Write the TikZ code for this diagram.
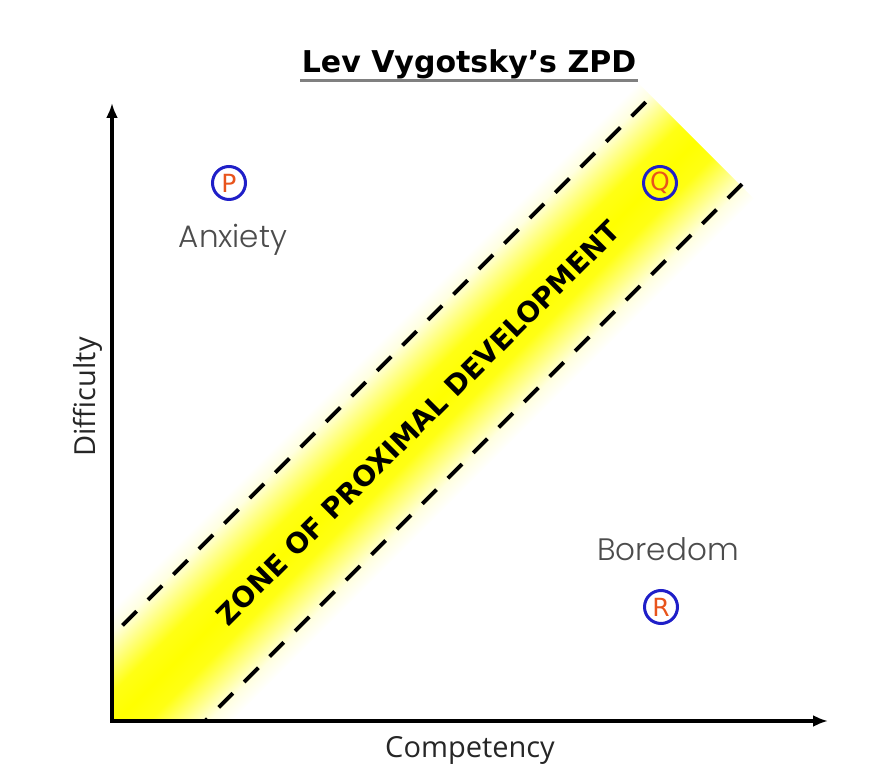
\documentclass[tikz,border=0pt]{standalone}
\usepackage{fontspec}
\setmainfont{DejaVu Sans}
\newfontfamily\axisfont{Open Sans}
\newfontfamily\moodfont{Poppins Light}
\usetikzlibrary{arrows.meta}
\definecolor{zblue}{HTML}{1F1FC8}
\definecolor{zorange}{HTML}{E8541C}
\pgfdeclareverticalshading{zpdband}{100bp}{color(0bp)=(white); color(25bp)=(white);
    color(30bp)=(yellow!12); color(37bp)=(yellow!55); color(43bp)=(yellow!92);
    color(50bp)=(yellow); color(57bp)=(yellow!92); color(63bp)=(yellow!55);
    color(70bp)=(yellow!12); color(75bp)=(white); color(100bp)=(white)}

\begin{document}
\begin{tikzpicture}[x=1pt,y=1pt,
    axis/.style={line width=3.4pt},
    zpdline/.style={line width=3.8pt, dash pattern=on 20pt off 16pt},
    letter/.style={circle, draw=zblue, line width=3pt, minimum size=33pt, inner sep=0pt,
        text=zorange, font=\fontsize{25}{25}\selectfont},
    mood/.style={text=black!70, font=\moodfont\fontsize{31}{31}\selectfont},
    axislabel/.style={text=black!85, font=\axisfont\fontsize{29}{29}\selectfont}]

    \useasboundingbox (0,0) rectangle (878,784);

    \coordinate (O) at (112,63);
    \coordinate (y_top) at (112,681);
    \coordinate (x_end) at (828,63);

    % the band
    \begin{scope}
        \clip (O) rectangle (878,784);
        \begin{scope}[transform canvas={shift={(696,643)},rotate=45}]
            \shade[shading=zpdband] (-1200,-82) rectangle (0,82);
        \end{scope}
        \begin{scope}[shift={(696,643)},rotate=45]
            \coordinate (a_1) at (-1200,63);
            \coordinate (a_2) at (-8,63);
            \coordinate (b_1) at (-1200,-63);
            \coordinate (b_2) at (2,-63);
        \end{scope}
        \draw[zpdline] (a_2) -- (a_1);
        \draw[zpdline] (b_2) -- (b_1);
    \end{scope}

    \node[rotate=45, font=\bfseries\fontsize{28}{28}\selectfont] (zone) at (418,361)
        {ZONE OF PROXIMAL DEVELOPMENT};

    % axes
    \draw[axis, {Latex[length=15pt,width=12pt]}-{Latex[length=15pt,width=12pt]}]
        (y_top) -- (O) -- (x_end);

    \node[axislabel, rotate=90] (difficulty) at (88,387) {Difficulty};
    \node[axislabel] (competency) at (470,34) {Competency};

    % title
    \node[anchor=base, font=\bfseries\fontsize{30}{30}\selectfont] (title) at (469,711)
        {Lev Vygotsky’s ZPD};
    \coordinate (u_1) at (300,703);
    \coordinate (u_2) at (638,703);
    \draw[black!50, line width=3pt] (u_1) -- (u_2);

    \node[letter] (n_P) at (229,601) {P};
    \node[letter] (n_Q) at (660,601) {Q};
    \node[letter] (n_R) at (661,177) {R};

    \node[mood] (anxiety) at (233,544) {Anxiety};
    \node[mood] (boredom) at (668,235) {Boredom};

\end{tikzpicture}
\end{document}
